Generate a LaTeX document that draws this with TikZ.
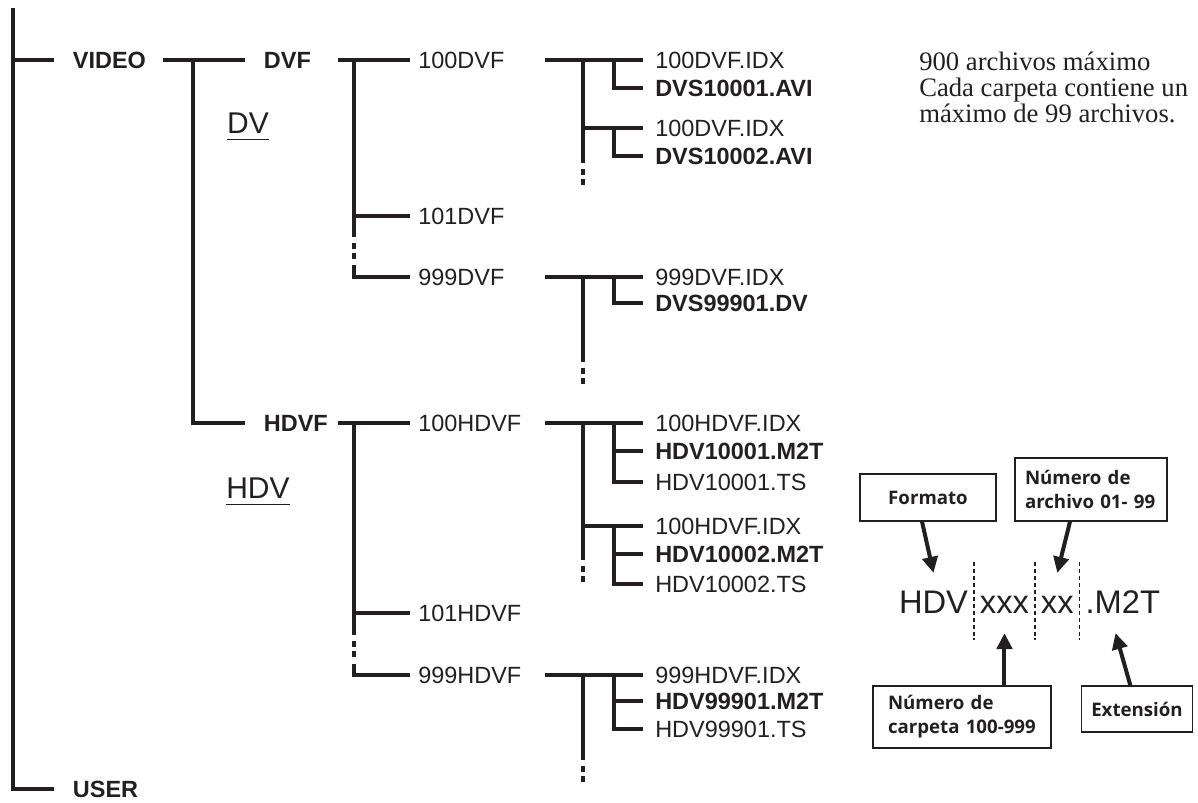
\documentclass[tikz,border=0pt]{standalone}
\usepackage{fontspec}
\setmainfont{Liberation Sans}
\newfontfamily\notefont{Liberation Serif}
\newfontfamily\boxfont{Open Sans}
\usepackage{tikz}
\usetikzlibrary{arrows.meta,positioning}
\definecolor{ink}{HTML}{231F20}
\tikzset{
  treeline/.style={line width=2.6bp,draw=ink,line join=miter},
  gapdots/.style={line width=2.6bp,draw=ink,dash pattern=on 0bp off 4.5bp on 4.5bp off 3bp on 4.5bp off 40bp},
  dirname/.style={anchor=west,inner xsep=14bp,inner ysep=0pt,text height=12.6bp,text depth=0pt,text=ink,
    font=\fontsize{17.6bp}{21bp}\selectfont\bfseries},
  folder/.style={dirname,inner xsep=6bp,font=\fontsize{17.6bp}{21bp}\selectfont},
  file/.style={dirname,inner xsep=9bp,font=\fontsize{17.6bp}{21bp}\selectfont},
  mainfile/.style={file,font=\fontsize{17.6bp}{21bp}\selectfont\bfseries},
  mediumlabel/.style={anchor=base,inner sep=0pt,text=ink,font=\fontsize{22.5bp}{27bp}\selectfont},
  namepart/.style={inner xsep=4.5bp,inner ysep=20.6bp,outer sep=0pt,text height=17.5bp,text depth=0pt,
    text=ink,font=\fontsize{24.5bp}{29bp}\selectfont},
  divider/.style={draw=ink,line width=0.9bp,dash pattern=on 3bp off 2.2bp},
  notetext/.style={anchor=north west,inner sep=0pt,align=left,text=ink,font=\notefont\fontsize{20bp}{19.5bp}\selectfont},
  infobox/.style={draw=ink,line width=0.9bp,inner xsep=7.5bp,text=ink,
    font=\boxfont\fontsize{14bp}{18bp}\selectfont\bfseries},
  arrow/.style={-{Triangle[length=12bp,width=11.5bp]},line width=3bp,draw=ink}
}

\begin{document}
\begin{tikzpicture}[x=0.75bp,y=-0.75bp]
\useasboundingbox (0,0) rectangle (1198,802);
% root
\coordinate (root) at (13,8);
\node[dirname] (video) at (54,60) {VIDEO};
\node[dirname] (user) at (54,789) {USER};
\draw[treeline] (video.west) -| (root) |- (user.west);

% VIDEO
\coordinate (ve) at (163,60);
\coordinate (vs) at (193,60);
\node[dirname] (dvf) at (245,60) {DVF};
\node[dirname] (hdvf) at (245,423) {HDVF};
\draw[treeline] (ve) -- (dvf.west);
\draw[treeline] (vs) |- (hdvf.west);
\node[mediumlabel] (dv) at (248,133) {\underline{\raisebox{0pt}[\height][3bp]{DV}}};
\node[mediumlabel] (hdv) at (258,498) {\underline{\raisebox{0pt}[\height][3bp]{HDV}}};

% DVF folders
\coordinate (de) at (338,60);
\coordinate (ds) at (354,60);
\coordinate (dsa) at (354,237);
\coordinate (dsb) at (354,265);
\node[folder] (d100) at (410,60) {100DVF};
\node[folder] (d101) at (410,216) {101DVF};
\node[folder] (d999) at (410,277) {999DVF};
\draw[treeline] (de) -- (d100.west);
\draw[treeline] (ds) -- (dsa);
\draw[gapdots] (dsa) -- (dsb);
\draw[treeline] (dsb) |- (d999.west);
\draw[treeline] (ds |- d101.west) -- (d101.west);

% file columns
\coordinate (sx) at (583,0);
\coordinate (ssx) at (614,0);

% 100DVF
\coordinate (ga) at (545,60);
\coordinate (ae) at (583,163);
\node[file] (a1) at (643,60) {100DVF.IDX};
\node[mainfile] (a2) at (643,88) {DVS10001.AVI};
\node[file] (a3) at (643,128) {100DVF.IDX};
\node[mainfile] (a4) at (643,156) {DVS10002.AVI};
\draw[treeline] (ga) -- (a1.west);
\draw[treeline] (a1.west -| sx) -- (ae);
\draw[gapdots] (ae) -- ++(0,24);
\draw[treeline] (a3.west -| sx) -- (a3.west);
\draw[treeline] (a1.west -| ssx) |- (a2.west);
\draw[treeline] (a3.west -| ssx) |- (a4.west);

% 999DVF
\coordinate (gb) at (545,277);
\coordinate (be) at (583,362);
\node[file] (b1) at (643,277) {999DVF.IDX};
\node[mainfile] (b2) at (643,303) {DVS99901.DV};
\draw[treeline] (gb) -- (b1.west);
\draw[treeline] (b1.west -| sx) -- (be);
\draw[gapdots] (be) -- ++(0,24);
\draw[treeline] (b1.west -| ssx) |- (b2.west);

% HDVF folders
\coordinate (he) at (338,423);
\coordinate (hs) at (354,423);
\coordinate (hsa) at (354,635);
\coordinate (hsb) at (354,664);
\node[folder] (h100) at (410,423) {100HDVF};
\node[folder] (h101) at (410,613) {101HDVF};
\node[folder] (h999) at (410,675) {999HDVF};
\draw[treeline] (he) -- (h100.west);
\draw[treeline] (hs) -- (hsa);
\draw[gapdots] (hsa) -- (hsb);
\draw[treeline] (hsb) |- (h999.west);
\draw[treeline] (hs |- h101.west) -- (h101.west);

% 100HDVF
\coordinate (gc) at (545,423);
\coordinate (ce) at (583,560);
\node[file] (c1) at (643,423) {100HDVF.IDX};
\node[mainfile] (c2) at (643,451) {HDV10001.M2T};
\node[file] (c3) at (643,482) {HDV10001.TS};
\node[file] (c4) at (643,526) {100HDVF.IDX};
\node[mainfile] (c5) at (643,554) {HDV10002.M2T};
\node[file] (c6) at (643,584) {HDV10002.TS};
\draw[treeline] (gc) -- (c1.west);
\draw[treeline] (c1.west -| sx) -- (ce);
\draw[gapdots] (ce) -- ++(0,24);
\draw[treeline] (c4.west -| sx) -- (c4.west);
\draw[treeline] (c1.west -| ssx) |- (c3.west);
\draw[treeline] (c2.west -| ssx) -- (c2.west);
\draw[treeline] (c4.west -| ssx) |- (c6.west);
\draw[treeline] (c5.west -| ssx) -- (c5.west);

% 999HDVF
\coordinate (gd) at (545,675);
\coordinate (ee) at (583,760);
\node[file] (e1) at (643,675) {999HDVF.IDX};
\node[mainfile] (e2) at (643,701) {HDV99901.M2T};
\node[file] (e3) at (643,729) {HDV99901.TS};
\draw[treeline] (gd) -- (e1.west);
\draw[treeline] (e1.west -| sx) -- (ee);
\draw[gapdots] (ee) -- ++(0,24);
\draw[treeline] (e1.west -| ssx) |- (e3.west);
\draw[treeline] (e2.west -| ssx) -- (e2.west);

% note
\node[notetext] (note) at (919,52) {900 archivos máximo\\Cada carpeta contiene un\\máximo de 99 archivos.};

% file name parts
\node[namepart,anchor=base west] (fhdv) at (893,613) {HDV};
\node[namepart,right=0pt of fhdv] (fxxx) {xxx};
\node[namepart,right=0pt of fxxx] (fxx) {xx};
\node[namepart,right=0pt of fxx] (fm2t) {.M2T};
\draw[divider] (fhdv.north east) -- (fhdv.south east);
\draw[divider] (fxxx.north east) -- (fxxx.south east);
\draw[divider] (fxx.north east) -- (fxx.south east);

\node[infobox,minimum width=102bp,minimum height=35.25bp] (formato) at (928,497.5) {Formato};
\node[infobox,text width=99bp,align=left,minimum height=47.25bp] (archivo) at (1091,489.5) {Número de\\archivo 01- 99};
\node[infobox,text width=111bp,inner xsep=11.25bp,align=left,minimum height=46.5bp] (carpeta) at (962,717) {Número de\\carpeta 100-999};
\node[infobox,minimum width=81bp,minimum height=34.5bp] (ext) at (1137,709) {Extensión};

\draw[arrow] ([xshift=-4.5bp]formato.south) -- ([yshift=-8bp]fhdv.north);
\draw[arrow] ([xshift=-15.75bp]archivo.south) -- ([yshift=-8bp]fxx.north);
\draw[arrow] (fxxx.south |- carpeta.north) -- ([yshift=5.5bp]fxxx.south);
\draw[arrow] ([xshift=-5bp]ext.north) -- ([xshift=-5.5bp,yshift=5.5bp]fm2t.south);
\end{tikzpicture}
\end{document}
